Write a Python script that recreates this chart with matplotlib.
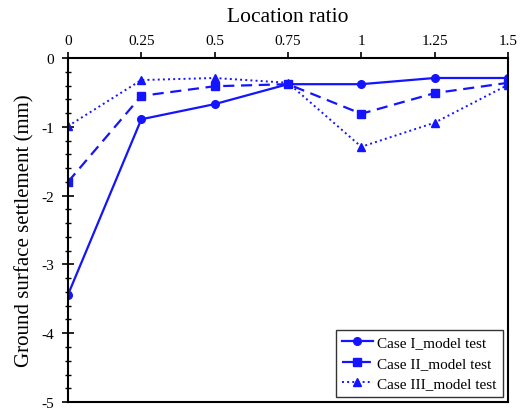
import numpy as np
import matplotlib
matplotlib.use('Agg')
from matplotlib import pyplot as plt
from matplotlib.ticker import MultipleLocator

plt.rcParams['font.family'] = ['Liberation Serif', 'DejaVu Serif']

# location ratio along the surface
ratio = [0, 0.25, 0.5, 0.75, 1, 1.25, 1.5]
tick_labels = ['0', '0.25', '0.5', '0.75', '1', '1.25', '1.5']

# ground surface settlement (mm)
case1 = [-3.44, -0.89, -0.67, -0.38, -0.38, -0.29, -0.29]
case2 = [-1.80, -0.55, -0.41, -0.38, -0.81, -0.51, -0.36]
case3 = [-0.99, -0.32, -0.29, -0.36, -1.29, -0.94, -0.39]

blue = '#1414ff'

fig = plt.figure(figsize=(5.25, 4.1), dpi=100)
ax = fig.add_axes([0.1295, 0.017, 0.838, 0.839])

ax.plot(ratio, case1, '-', color=blue, lw=1.6, marker='o', ms=5.5, label='Case I_model test')
ax.plot(ratio, case2, '--', color=blue, lw=1.6, marker='s', ms=5.5, dashes=(5, 3), label='Case II_model test')
ax.plot(ratio, case3, ':', color=blue, lw=1.4, marker='^', ms=5.5, label='Case III_model test')

ax.set_xlim(0, 1.5)
ax.set_ylim(-5, 0)
ax.xaxis.tick_top()
ax.xaxis.set_label_position('top')
ax.set_xticks(ratio)
ax.set_xticklabels(tick_labels)
ax.set_yticks([0, -1, -2, -3, -4, -5])
ax.set_yticklabels(['0', '-1', '-2', '-3', '-4', '-5'])
ax.yaxis.set_minor_locator(MultipleLocator(0.2))
ax.tick_params(axis='x', direction='out', length=4, width=1.2, labelsize=11, pad=4)
ax.tick_params(axis='y', which='major', direction='inout', length=8, width=1.2, labelsize=11, pad=6)
ax.tick_params(axis='y', which='minor', direction='inout', length=5, width=1.0)
for s in ax.spines.values():
    s.set_linewidth(1.5)

ax.set_xlabel('Location ratio', fontsize=15.5, labelpad=9)
ax.set_ylabel('Ground surface settlement (mm)', fontsize=15, labelpad=5)

leg = ax.legend(loc='lower right', fontsize=11, frameon=True, fancybox=False,
                edgecolor='black', handlelength=2.0, handletextpad=0.3,
                borderaxespad=0.35, labelspacing=0.45, borderpad=0.4)
leg.get_frame().set_linewidth(1.0)

fig.savefig('out.png', dpi=100)
